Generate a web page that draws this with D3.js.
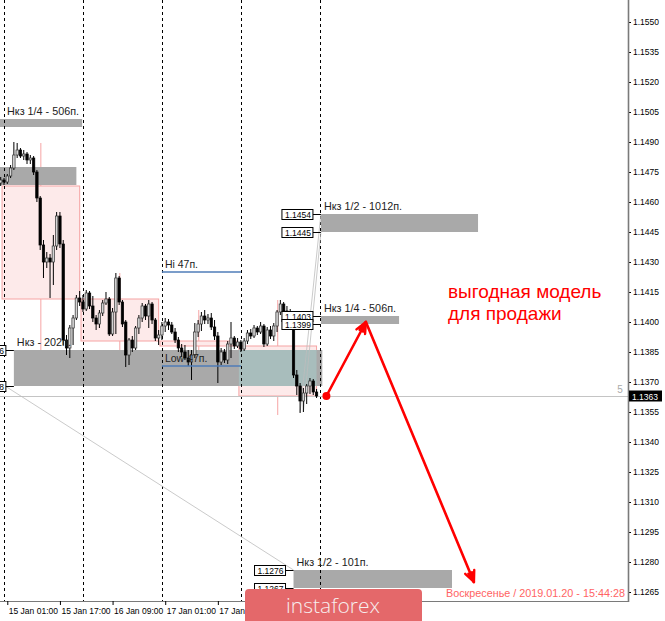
<!DOCTYPE html>
<html><head><meta charset="utf-8">
<script src="https://cdn.jsdelivr.net/npm/d3@7"></script>
<style>
body{margin:0;background:#fff;}
svg{display:block;font-family:"Liberation Sans",Arial,sans-serif;}
</style>
</head><body>
<svg id="c" width="665" height="621"></svg>
<script>
// ---------- DATA ----------
const firstBar = "2019-01-14T23:00:00Z"; // H1 bars, one per hour
const open = [1.14695,1.14710,1.14700,1.14730,1.14770,1.14835,1.14860,1.14830,1.14840,1.14810,
1.14820,1.14750,1.14620,1.14385,1.14300,1.14320,1.14300,1.14380,1.14530,1.14390,
1.13910,1.13870,1.13970,1.14020,1.14120,1.14100,1.14065,1.14145,1.14080,1.14020,
1.13990,1.14045,1.14095,1.14115,1.13940,1.14050,1.14220,1.14100,1.14000,1.13835,
1.13910,1.13870,1.13970,1.14020,1.14080,1.14030,1.14090,1.14010,1.13920,1.13935,
1.13980,1.14000,1.13985,1.13950,1.13910,1.13870,1.13850,1.13820,1.13800,1.13835,
1.13950,1.13990,1.14030,1.14010,1.14020,1.13975,1.13930,1.13800,1.13850,1.13810,
1.13890,1.13920,1.13880,1.13900,1.13865,1.13905,1.13945,1.13930,1.13970,1.13950,
1.13980,1.13890,1.13960,1.13930,1.13980,1.14050,1.14090,1.14055,1.14020,1.14040,
1.13735,1.13680,1.13605,1.13645,1.13680,1.13705,1.13650];
const high = [1.14725,1.14720,1.14740,1.14785,1.14900,1.14895,1.14870,1.14860,1.14850,1.14835,
1.14830,1.14760,1.14630,1.14410,1.14350,1.14340,1.14435,1.14550,1.14550,1.14410,
1.13935,1.13985,1.14035,1.14135,1.14155,1.14135,1.14160,1.14155,1.14130,1.14035,
1.14060,1.14110,1.14150,1.14125,1.14070,1.14245,1.14230,1.14110,1.14010,1.13920,
1.13930,1.13980,1.14035,1.14095,1.14090,1.14110,1.14100,1.14020,1.13960,1.14000,
1.14020,1.14015,1.14000,1.13970,1.13925,1.13890,1.13885,1.13860,1.13860,1.13995,
1.14010,1.14050,1.14060,1.14040,1.14045,1.14010,1.13950,1.13870,1.13865,1.13905,
1.14000,1.13930,1.13920,1.13910,1.13920,1.13960,1.13965,1.13985,1.13980,1.14000,
1.13990,1.13975,1.13980,1.13995,1.14060,1.14110,1.14100,1.14080,1.14065,1.14050,
1.13760,1.13695,1.13670,1.13690,1.13720,1.13715,1.13665];
const low = [1.14680,1.14685,1.14690,1.14720,1.14760,1.14820,1.14820,1.14810,1.14790,1.14790,
1.14735,1.14600,1.14360,1.14220,1.14270,1.14120,1.14185,1.14360,1.14370,1.13885,
1.13835,1.13820,1.13885,1.14010,1.14080,1.14050,1.14055,1.14065,1.14000,1.13960,
1.13970,1.14030,1.14085,1.13930,1.13930,1.13940,1.14085,1.13975,1.13775,1.13785,
1.13850,1.13860,1.13940,1.14000,1.14010,1.13970,1.13990,1.13905,1.13885,1.13910,
1.13950,1.13960,1.13940,1.13895,1.13850,1.13825,1.13810,1.13780,1.13710,1.13820,
1.13925,1.13955,1.13990,1.13990,1.13960,1.13910,1.13695,1.13785,1.13795,1.13790,
1.13820,1.13865,1.13870,1.13850,1.13855,1.13890,1.13915,1.13920,1.13935,1.13940,
1.13875,1.13880,1.13915,1.13905,1.13950,1.14035,1.14040,1.14000,1.14005,1.13720,
1.13635,1.13545,1.13550,1.13590,1.13640,1.13635,1.13620];
const close = [1.14710,1.14700,1.14730,1.14770,1.14835,1.14860,1.14830,1.14840,1.14810,1.14820,
1.14750,1.14620,1.14385,1.14300,1.14320,1.14300,1.14380,1.14530,1.14390,1.13910,
1.13870,1.13970,1.14020,1.14120,1.14100,1.14065,1.14145,1.14080,1.14020,1.13990,
1.14045,1.14095,1.14115,1.13940,1.14050,1.14220,1.14100,1.13990,1.13835,1.13910,
1.13870,1.13970,1.14020,1.14080,1.14030,1.14090,1.14010,1.13920,1.13935,1.13980,
1.14000,1.13985,1.13950,1.13910,1.13870,1.13850,1.13820,1.13800,1.13835,1.13950,
1.13990,1.14030,1.14010,1.14020,1.13975,1.13930,1.13800,1.13850,1.13810,1.13890,
1.13920,1.13880,1.13900,1.13865,1.13905,1.13945,1.13930,1.13970,1.13950,1.13980,
1.13890,1.13960,1.13930,1.13980,1.14050,1.14090,1.14055,1.14020,1.14040,1.13735,
1.13680,1.13605,1.13645,1.13680,1.13705,1.13650,1.13630];

// Daily candles overlay
const d1Days  = ["2019-01-15","2019-01-16","2019-01-17","2019-01-18"];
const d1Open  = [1.1468, 1.14115, 1.13905, 1.1388];
const d1Close = [1.14115, 1.13905, 1.1388, 1.1363];
const d1High  = [1.14895, 1.14245, 1.1406, 1.1411];
const d1Low   = [1.1381, 1.13775, 1.1371, 1.13535];

// Zones
const bandLabels = ["Нкз 1/4 - 506п.", "", "Нкз - 202п.", "Нкз 1/2 - 1012п.", "Нкз 1/4 - 506п.", "Нкз 1/2 - 101п."];
const bandStart  = ["2019-01-14T20:00Z","2019-01-14T20:00Z","2019-01-15T03:00Z","2019-01-19T00:20Z","2019-01-19T00:20Z","2019-01-18T16:00Z"];
const bandEnd    = ["2019-01-15T23:45Z","2019-01-15T22:00Z","2019-01-19T00:45Z","2019-01-21T00:05Z","2019-01-20T00:05Z","2019-01-20T16:10Z"];
const bandTop    = [1.15015, 1.14775, 1.1386, 1.1454, 1.1403, 1.1276];
const bandBottom = [1.14975, 1.14685, 1.1368, 1.1445, 1.1399, 1.1267];
const bandTagged = [false, false, true, true, true, true];

// Hi / Low of day
const hiLoStart = "2019-01-17T00:00Z", hiLoEnd = "2019-01-18T00:00Z";
const hiLoPrices = [1.1425, 1.1378];
const hiLoLabels = ["Hi 47п.", "Low 47п."];

// thin trend lines [t1,p1,t2,p2]
const trendLines = [
  ["2019-01-15T00:20Z", 1.1368, "2019-01-18T16:00Z", 1.1276],
  ["2019-01-18T18:00Z", 1.1355, "2019-01-19T00:20Z", 1.1454],
  ["2019-01-18T19:00Z", 1.1355, "2019-01-19T00:20Z", 1.1445]
];

// Forecast arrows
const arrowTimes  = ["2019-01-19T02:00Z","2019-01-19T14:00Z","2019-01-20T22:50Z"];
const arrowPrices = [1.1363, 1.1400, 1.1270];

const priceTicks = [1.1550,1.1535,1.1520,1.1505,1.1490,1.1475,1.1460,1.1445,1.1430,1.1415,1.1400,
  1.1385,1.1370,1.1355,1.1340,1.1325,1.1310,1.1295,1.1280,1.1265];
const timeTicks = ["2019-01-15T01:00Z","2019-01-15T17:00Z","2019-01-16T09:00Z","2019-01-17T01:00Z","2019-01-17T17:00Z"];
const daySeparators = ["2019-01-15T00:00Z","2019-01-16T00:00Z","2019-01-17T00:00Z","2019-01-18T00:00Z","2019-01-19T00:00Z"];
const currentPrice = 1.1363;
const forecastText = ["выгодная модель", "для продажи"];
const dateText = "Воскресенье / 2019.01.20 - 15:44:28";

// ---------- SCALES ----------
const W = 628, H = 601;
const HOUR = 3600e3;
const t0 = new Date("2019-01-15T00:00:00Z").getTime();
const pxH = 3.29;
const x = d3.scaleUtc().domain([new Date(t0 - 4/pxH*HOUR), new Date(t0 + (W-4)/pxH*HOUR)]).range([0, W]);
const y = d3.scaleLinear().domain([1.1261, 1.1561]).range([600, 0]);
const T = s => new Date(s);

const svg = d3.select("#c");
svg.append("rect").attr("width",665).attr("height",621).attr("fill","#fff");
svg.append("defs").append("clipPath").attr("id","clip").append("rect").attr("width",W).attr("height",H);
const g = svg.append("g").attr("clip-path","url(#clip)");

// ---------- D1 overlay ----------
const d1 = d1Days.map((d,i)=>({s:new Date(d+"T00:00:00Z").getTime(), o:d1Open[i], c:d1Close[i], h:d1High[i], l:d1Low[i]}));
g.selectAll(".d1w").data(d1).join("line")
  .attr("x1",d=>x(new Date(d.s+11.2*HOUR))).attr("x2",d=>x(new Date(d.s+11.2*HOUR)))
  .attr("y1",d=>y(d.h)).attr("y2",d=>y(d.l)).attr("stroke","#f6a4a4").attr("stroke-width",1);
g.selectAll(".d1r").data(d1).join("rect")
  .attr("x",d=>x(new Date(d.s-0.6*HOUR))).attr("width",d=>x(new Date(d.s+23*HOUR))-x(new Date(d.s-0.6*HOUR)))
  .attr("y",d=>y(Math.max(d.o,d.c))).attr("height",d=>Math.max(1,y(Math.min(d.o,d.c))-y(Math.max(d.o,d.c))))
  .attr("fill","#fdeaea").attr("stroke","#f6a4a4").attr("stroke-width",1);

// ---------- Bands ----------
const bands = bandLabels.map((l,i)=>({l, s:T(bandStart[i]), e:T(bandEnd[i]), top:bandTop[i], bot:bandBottom[i], tag:bandTagged[i]}));
g.selectAll(".band").data(bands).join("rect")
  .attr("x",d=>x(d.s)).attr("width",d=>x(d.e)-x(d.s))
  .attr("y",d=>y(d.top)).attr("height",d=>y(d.bot)-y(d.top))
  .attr("fill","#a9a9a9");
// overlap of daily bodies with zones
const overlaps = [];
d1.forEach(d=>{
  const rx0 = x(new Date(d.s-0.6*HOUR)), rx1 = x(new Date(d.s+23*HOUR));
  const ry0 = y(Math.max(d.o,d.c)), ry1 = y(Math.min(d.o,d.c));
  bands.forEach(b=>{
    const bx0=x(b.s), bx1=x(b.e), by0=y(b.top), by1=y(b.bot);
    const ix0=Math.max(rx0,bx0), ix1=Math.min(rx1,bx1), iy0=Math.max(ry0,by0), iy1=Math.min(ry1,by1);
    if(ix1>ix0 && iy1>iy0) overlaps.push({x0:ix0,x1:ix1,y0:iy0,y1:iy1});
  });
});
g.selectAll(".ov").data(overlaps).join("rect")
  .attr("x",d=>d.x0).attr("y",d=>d.y0).attr("width",d=>d.x1-d.x0).attr("height",d=>d.y1-d.y0)
  .attr("fill","#a8bdbc");

// ---------- Day separators ----------
g.selectAll(".sep").data(daySeparators).join("line")
  .attr("x1",d=>Math.round(x(T(d)))+0.5).attr("x2",d=>Math.round(x(T(d)))+0.5)
  .attr("y1",0).attr("y2",H).attr("stroke","#000").attr("stroke-width",1).attr("stroke-dasharray","3,3");

// current price line
g.append("line").attr("x1",0).attr("x2",W).attr("y1",Math.round(y(currentPrice))+0.5).attr("y2",Math.round(y(currentPrice))+0.5)
  .attr("stroke","#c4c4c4").attr("stroke-width",1);

// trend lines
g.selectAll(".tl").data(trendLines).join("line")
  .attr("x1",d=>x(T(d[0]))).attr("y1",d=>y(d[1])).attr("x2",d=>x(T(d[2]))).attr("y2",d=>y(d[3]))
  .attr("stroke","#bdbdbd").attr("stroke-width",0.8);

// ---------- Candles ----------
const startMs = T(firstBar).getTime();
const bars = open.map((o,i)=>({t:new Date(startMs+i*HOUR), o, h:high[i], l:low[i], c:close[i]}));
const bw = 2.4;
const cg = g.append("g");
cg.selectAll(".wick").data(bars).join("line")
  .attr("x1",d=>x(d.t)).attr("x2",d=>x(d.t)).attr("y1",d=>y(d.h)).attr("y2",d=>y(d.l))
  .attr("stroke","#000").attr("stroke-width",1);
cg.selectAll(".body").data(bars).join("rect")
  .attr("x",d=>x(d.t)-bw/2).attr("width",bw)
  .attr("y",d=>y(Math.max(d.o,d.c))).attr("height",d=>Math.max(0.8,Math.abs(y(d.o)-y(d.c))))
  .attr("fill",d=>d.c>=d.o?"#d4d4d4":"#000").attr("stroke",d=>d.c>=d.o?"#333":"#000").attr("stroke-width",0.7);

// ---------- Hi/Low lines ----------
hiLoPrices.forEach((p,i)=>{
  g.append("line").attr("x1",x(T(hiLoStart))).attr("x2",x(T(hiLoEnd))).attr("y1",y(p)).attr("y2",y(p))
    .attr("stroke","#4f7db8").attr("stroke-width",1.5);
  g.append("text").attr("x",x(T(hiLoStart))+3).attr("y",y(p)-4).attr("font-size",10.5).attr("fill","#222").text(hiLoLabels[i]);
});

// ---------- Band labels and price tags ----------
const fmt4 = d3.format(".4f");
bands.forEach(b=>{
  const bx = x(b.s);
  if(b.l) g.append("text").attr("x",Math.max(bx,4)+3).attr("y",y(b.top)-4).attr("font-size",10.8).attr("fill","#222").text(b.l);
  if(b.tag){
    [b.top,b.bot].forEach(p=>{
      const yy = Math.round(y(p))+0.5, right = bx-8;
      g.append("line").attr("x1",right).attr("x2",bx).attr("y1",yy).attr("y2",yy).attr("stroke","#000").attr("stroke-width",1);
      g.append("rect").attr("x",right-31).attr("y",yy-5).attr("width",31).attr("height",10)
        .attr("fill","#fff").attr("stroke","#000").attr("stroke-width",1);
      g.append("text").attr("x",right-2).attr("y",yy+3.5).attr("text-anchor","end").attr("font-size",8.5)
        .attr("fill","#000").text(fmt4(p));
    });
  }
});

// ---------- Forecast arrows ----------
const ap = arrowTimes.map((t,i)=>[x(T(t)), y(arrowPrices[i])]);
const red = "#ff0000";
g.append("path").attr("d",d3.line()(ap)).attr("fill","none").attr("stroke",red).attr("stroke-width",2.6).attr("stroke-linejoin","round");
function head(from,to){
  const a = Math.atan2(to[1]-from[1], to[0]-from[0]);
  [0.42,-0.42,0.2,-0.2].forEach(da=>{
    const L = Math.abs(da)>0.3?12:10;
    g.append("line").attr("x1",to[0]).attr("y1",to[1])
      .attr("x2",to[0]-L*Math.cos(a+da)).attr("y2",to[1]-L*Math.sin(a+da))
      .attr("stroke",red).attr("stroke-width",2.4).attr("stroke-linecap","round");
  });
}
head(ap[0],ap[1]); head(ap[1],ap[2]);
g.append("circle").attr("cx",ap[0][0]).attr("cy",ap[0][1]).attr("r",4).attr("fill",red);

forecastText.forEach((t,i)=>{
  g.append("text").attr("x",448).attr("y",298+i*22).attr("font-size",19).attr("fill",red).text(t);
});

// "5" marker near price line
g.append("text").attr("x",620).attr("y",y(currentPrice)-3).attr("text-anchor","middle").attr("font-size",10).attr("fill","#aaa").text("5");

// ---------- Axes ----------
const ya = svg.append("g").attr("transform",`translate(${W},0)`)
  .call(d3.axisRight(y).tickValues(priceTicks).tickFormat(fmt4).tickSize(3).tickPadding(2));
ya.select(".domain").remove();
ya.selectAll("text").attr("font-size",8.5).attr("font-family","Liberation Sans, Arial, sans-serif").attr("fill","#000");
ya.selectAll("line").attr("stroke","#000");
svg.append("line").attr("x1",W+0.5).attr("x2",W+0.5).attr("y1",0).attr("y2",H+1).attr("stroke","#7a7a7a").attr("stroke-width",1.6);
svg.append("line").attr("x1",0).attr("x2",W+1).attr("y1",H+0.5).attr("y2",H+0.5).attr("stroke","#7a7a7a").attr("stroke-width",1);

// current price tag
const cy = y(currentPrice);
svg.append("rect").attr("x",W+1).attr("y",cy-5.5).attr("width",33).attr("height",11).attr("fill","#000");
svg.append("text").attr("x",W+4).attr("y",cy+3.5).attr("font-size",8.5).attr("fill","#fff").text(fmt4(currentPrice));

const xa = svg.append("g").attr("transform",`translate(0,${H})`)
  .call(d3.axisBottom(x).tickValues(timeTicks.map(T)).tickFormat(d3.utcFormat("%d %b %H:%M")).tickSize(4).tickPadding(3));
xa.select(".domain").remove();
xa.selectAll("line").attr("stroke","#000");
xa.selectAll("text").attr("text-anchor","start").attr("dx",1).attr("font-size",8.5).attr("font-family","Liberation Sans, Arial, sans-serif").attr("fill","#000");

// date text
svg.append("text").attr("x",625).attr("y",597).attr("text-anchor","end").attr("font-size",10.8).attr("fill","#ff6363").text(dateText);

// badge
svg.append("rect").attr("x",245).attr("y",589).attr("width",177).attr("height",40).attr("rx",4).attr("fill","#e4686a");
svg.append("text").attr("x",333).attr("y",613).attr("text-anchor","middle").attr("font-size",21)
  .attr("font-family","'Open Sans', sans-serif").attr("font-weight",300).attr("fill","#f7eeee").text("instaforex");
</script>
</body></html>
